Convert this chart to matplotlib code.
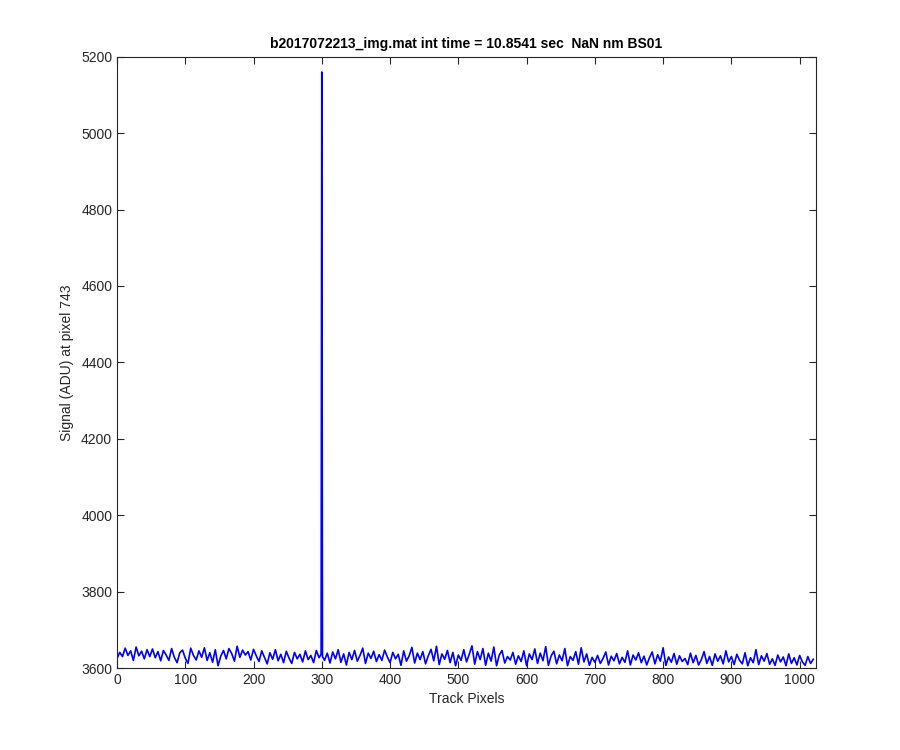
import numpy as np
import matplotlib
matplotlib.use("Agg")
import matplotlib.pyplot as plt

plt.rcParams['font.family'] = ['Liberation Sans', 'DejaVu Sans']

title = "b2017072213_img.mat int time = 10.8541 sec  NaN nm BS01"
xlabel = "Track Pixels"
ylabel = "Signal (ADU) at pixel 743"

# baseline signal sampled every 4 track pixels
pixel_step = 4
baseline = [
    3625, 3641, 3630, 3652, 3633, 3645, 3620, 3655, 3632, 3644, 3624, 3648, 3630, 3650, 3627, 3643,
    3619, 3646, 3634, 3620, 3651, 3628, 3614, 3640, 3647, 3626, 3612, 3652, 3633, 3621, 3645, 3628,
    3653, 3620, 3640, 3615, 3648, 3606, 3631, 3646, 3624, 3651, 3638, 3618, 3657, 3628, 3647, 3634,
    3643, 3621, 3649, 3632, 3617, 3645, 3628, 3611, 3640, 3623, 3648, 3619, 3636, 3614, 3644, 3626,
    3612, 3641, 3624, 3636, 3616, 3645, 3622, 3633, 3614, 3646, 3627, 3630, 3620, 3639, 3613, 3642,
    3624, 3648, 3615, 3637, 3608, 3641, 3622, 3646, 3618, 3633, 3652, 3612, 3639, 3625, 3644, 3617,
    3635, 3620, 3647, 3629, 3614, 3641, 3624, 3636, 3607, 3645, 3618, 3632, 3654, 3613, 3639, 3622,
    3643, 3611, 3632, 3649, 3619, 3657, 3609, 3637, 3623, 3646, 3614, 3641, 3606, 3634, 3620, 3648,
    3616, 3636, 3658, 3610, 3643, 3622, 3651, 3607, 3639, 3618, 3655, 3606, 3634, 3646, 3613, 3630,
    3621, 3641, 3610, 3632, 3617, 3645, 3606, 3637, 3622, 3650, 3612, 3639, 3619, 3656, 3607, 3632,
    3644, 3611, 3634, 3619, 3651, 3606, 3630, 3620, 3643, 3610, 3653, 3616, 3637, 3607, 3628, 3615,
    3633, 3612, 3625, 3642, 3608, 3631, 3619, 3638, 3611, 3628, 3615, 3645, 3608, 3634, 3621, 3640,
    3614, 3631, 3608, 3627, 3642, 3611, 3635, 3618, 3653, 3607, 3629, 3615, 3638, 3610, 3632, 3617,
    3625, 3609, 3639, 3614, 3633, 3608, 3622, 3643, 3612, 3630, 3607, 3637, 3618, 3632, 3611, 3645,
    3616, 3630, 3609, 3636, 3620, 3611, 3640, 3606, 3627, 3614, 3648, 3609, 3632, 3618, 3638, 3610,
    3624, 3607, 3634, 3616, 3629, 3606, 3637, 3612, 3627, 3608, 3633, 3616, 3607, 3630, 3612, 3623,
]
# narrow spike around pixel 300
spike_pixels = [299, 300, 301]
spike_values = [3636, 5160, 3630]

xticks = [0, 100, 200, 300, 400, 500, 600, 700, 800, 900, 1000]
yticks = [3600, 3800, 4000, 4200, 4400, 4600, 4800, 5000, 5200]

base_pixels = np.arange(len(baseline)) * pixel_step
keep = ~np.isin(base_pixels, spike_pixels)
px = np.concatenate([base_pixels[keep], spike_pixels])
vals = np.concatenate([np.array(baseline)[keep], spike_values])
order = np.argsort(px)
px, vals = px[order], vals[order]

fig = plt.figure(figsize=(9, 7.5), dpi=100)
ax = fig.add_axes([0.13, 0.1093, 0.7767, 0.815])
ax.plot(px, vals, color=(0, 0, 1), linewidth=1.2)
ax.set_xlim(0, 1024)
ax.set_ylim(3600, 5200)
ax.set_xticks(xticks)
ax.set_yticks(yticks)
ax.tick_params(direction='in', top=True, right=True, labelsize=10, length=5, width=0.8, colors='#262626')
for s in ax.spines.values():
    s.set_color('#262626')
    s.set_linewidth(0.8)
ax.set_title(title, fontsize=10, fontweight='bold', pad=6)
ax.set_xlabel(xlabel, fontsize=10, color='#262626')
ax.set_ylabel(ylabel, fontsize=10, color='#262626', labelpad=5)
fig.savefig("out.png", dpi=100)
